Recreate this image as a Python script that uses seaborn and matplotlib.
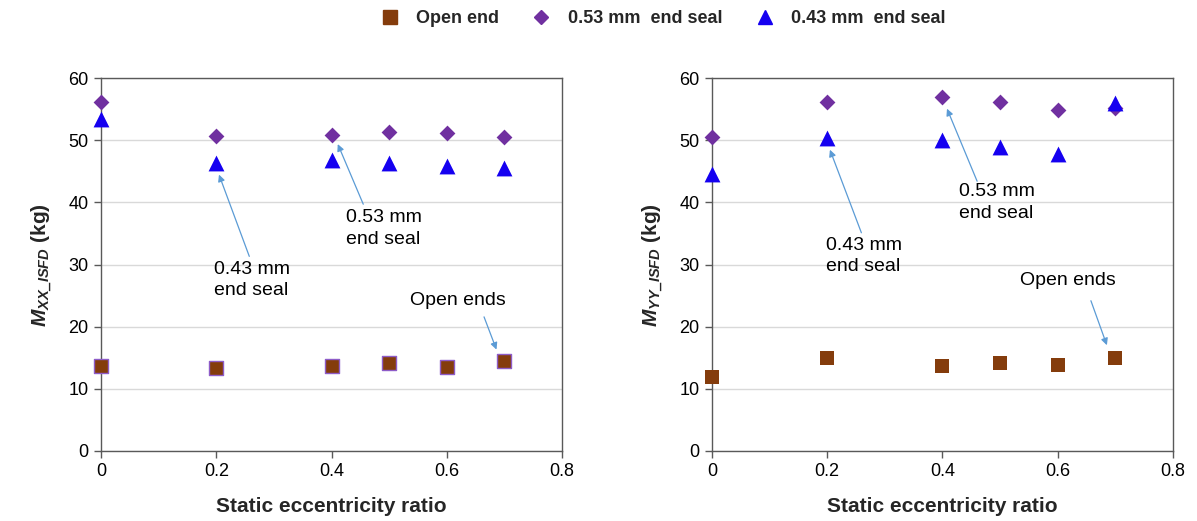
import matplotlib
matplotlib.use("Agg")
import matplotlib.pyplot as plt
import seaborn as sns
import pandas as pd
from matplotlib.lines import Line2D

ecc = [0.0, 0.2, 0.4, 0.5, 0.6, 0.7]

# Left panel: M_XX_ISFD (kg)
xx_open = [13.6, 13.3, 13.7, 14.2, 13.5, 14.5]
xx_053 = [56.1, 50.7, 50.8, 51.3, 51.1, 50.6]
xx_043 = [53.5, 46.3, 46.8, 46.3, 45.8, 45.6]

# Right panel: M_YY_ISFD (kg)
yy_open = [11.9, 14.9, 13.7, 14.1, 13.9, 14.9]
yy_053 = [50.6, 56.1, 57.0, 56.1, 54.9, 55.2]
yy_043 = [44.6, 50.3, 50.0, 48.9, 47.8, 56.0]

series_names = ["Open end", "0.53 mm  end seal", "0.43 mm  end seal"]
xticks = [0, 0.2, 0.4, 0.6, 0.8]
xtick_labels = ["0", "0.2", "0.4", "0.6", "0.8"]
yticks = [0, 10, 20, 30, 40, 50, 60]

sns.set_theme(style="white")
plt.rcParams['font.family'] = ['Liberation Sans', 'DejaVu Sans']
plt.rcParams['mathtext.fontset'] = 'custom'
plt.rcParams['mathtext.it'] = 'Liberation Sans:italic:bold'
plt.rcParams['mathtext.rm'] = 'Liberation Sans:bold'
plt.rcParams['mathtext.bf'] = 'Liberation Sans:bold'

colors = {"Open end": "#843C0C", "0.53 mm  end seal": "#7030A0", "0.43 mm  end seal": "#1500F0"}
markers = {"Open end": "s", "0.53 mm  end seal": "D", "0.43 mm  end seal": "^"}
sizes = {"Open end": 115, "0.53 mm  end seal": 65, "0.43 mm  end seal": 130}

def make_df(op, s53, s43):
    rows = []
    for name, vals in zip(series_names, [op, s53, s43]):
        for x, v in zip(ecc, vals):
            rows.append({"ecc": x, "M": v, "series": name})
    return pd.DataFrame(rows)

fig = plt.figure(figsize=(11.97, 5.21), dpi=100)
ax1 = fig.add_axes([0.0844, 0.1344, 0.3851, 0.7156])
ax2 = fig.add_axes([0.5948, 0.1344, 0.3851, 0.7156])

arrow_kw = dict(arrowstyle="-|>", color="#5B9BD5", lw=0.9, mutation_scale=10)

panels = [
    (ax1, make_df(xx_open, xx_053, xx_043), r"$M_{XX\_ISFD}$ (kg)", True,
     [("0.43 mm\nend seal", (0.196, 30.6), (0.259, 30.9), (0.203, 44.9)),
      ("0.53 mm\nend seal", (0.426, 38.9), (0.457, 39.3), (0.409, 49.8)),
      ("Open ends", (0.537, 25.6), (0.663, 22.0), (0.688, 15.9))]),
    (ax2, make_df(yy_open, yy_053, yy_043), r"$M_{YY\_ISFD}$ (kg)", False,
     [("0.43 mm\nend seal", (0.198, 34.5), (0.261, 34.7), (0.203, 48.9)),
      ("0.53 mm\nend seal", (0.428, 43.1), (0.462, 43.0), (0.406, 55.5)),
      ("Open ends", (0.534, 28.8), (0.656, 24.6), (0.687, 16.6))]),
]

for ax, df, ylab, sq_edge, notes in panels:
    for name in series_names:
        sub = df[df["series"] == name]
        if name == "Open end" and sq_edge:
            ec, lw = "#8E5CC8", 1.0
        else:
            ec, lw = colors[name], 0
        sns.scatterplot(data=sub, x="ecc", y="M", ax=ax, color=colors[name],
                        marker=markers[name], s=sizes[name], linewidth=lw,
                        edgecolor=ec, zorder=3, legend=False, clip_on=False)
    ax.set_xlim(0, 0.8)
    ax.set_ylim(0, 60)
    ax.set_xticks(xticks)
    ax.set_xticklabels(xtick_labels)
    ax.set_yticks(yticks)
    ax.yaxis.grid(True, color="#D9D9D9", lw=1)
    ax.xaxis.grid(False)
    ax.set_axisbelow(True)
    for sp in ax.spines.values():
        sp.set_visible(True)
        sp.set_color("#595959")
        sp.set_linewidth(1)
    ax.tick_params(axis="both", which="both", direction="out", length=5,
                   width=1, color="#595959", labelsize=13, labelcolor="#000000",
                   bottom=True, left=True, pad=4)
    ax.set_xlabel("Static eccentricity ratio", fontsize=15, fontweight="bold", labelpad=12)
    ax.set_ylabel(ylab, fontsize=15, fontweight="bold", labelpad=10)
    for txt, tpos, astart, aend in notes:
        ax.text(tpos[0], tpos[1], txt, fontsize=14, ha="left", va="top",
                linespacing=1.35, color="#000000")
        ax.annotate("", xy=aend, xytext=astart, arrowprops=arrow_kw)

leg_handles = [Line2D([], [], ls="", marker=markers[n], color=colors[n],
                      markersize=10 if n != "0.53 mm  end seal" else 7.5)
               for n in series_names]
fig.legend(leg_handles, series_names, loc="upper center", bbox_to_anchor=(0.552, 1.012),
           ncol=3, frameon=False, prop={"weight": "bold", "size": 13},
           columnspacing=1.6, handletextpad=0.7, handlelength=1.5)

fig.savefig("out.png", dpi=100)
